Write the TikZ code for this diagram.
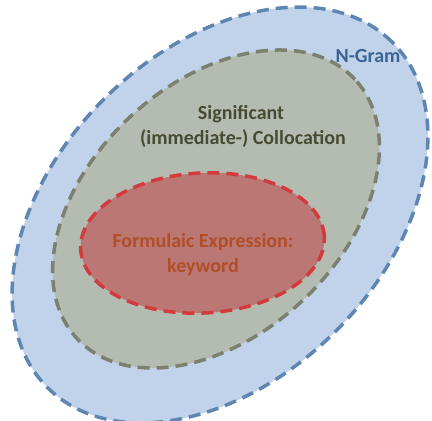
\documentclass[tikz,border=0pt]{standalone}
\usepackage{fontspec}
\setmainfont{Carlito}
\definecolor{outerfill}{HTML}{C0D3EA}
\definecolor{outerline}{HTML}{5F86B2}
\definecolor{midfill}{HTML}{B4BCB2}
\definecolor{midline}{HTML}{7B806F}
\definecolor{innfill}{HTML}{BA7774}
\definecolor{innline}{HTML}{D23A3E}
\definecolor{ngramtext}{HTML}{3B6395}
\definecolor{midtext}{HTML}{484B33}
\definecolor{inntext}{HTML}{B04E26}
\tikzset{
  setline/.style={line width=3.5pt, dash pattern=on 12pt off 7pt},
  lbl/.style={font=\fontsize{20}{25}\selectfont\bfseries, inner sep=0pt, anchor=base}
}
\begin{document}
\begin{tikzpicture}[x=1pt,y=1pt]
\useasboundingbox (0,0) rectangle (432,421);
\draw[setline, outerline, fill=outerfill, rotate around={45:(220,206)}] (220,206) ellipse [x radius=244, y radius=164];
\draw[setline, midline, fill=midfill, rotate around={43:(216,212)}] (216,212) ellipse [x radius=190, y radius=126];
\draw[setline, innline, fill=innfill, rotate around={3:(202.5,178)}] (202.5,178) ellipse [x radius=122, y radius=70];
\node[lbl, text=ngramtext] (ngram) at (368,358) {N-Gram};
\node[lbl, text=midtext] (sig1) at (241,301) {Significant};
\node[lbl, text=midtext] (sig2) at (243,276) {(immediate-) Collocation};
\node[lbl, text=inntext] (form1) at (203,173) {Formulaic Expression:};
\node[lbl, text=inntext] (form2) at (203,148) {keyword};
\end{tikzpicture}
\end{document}
